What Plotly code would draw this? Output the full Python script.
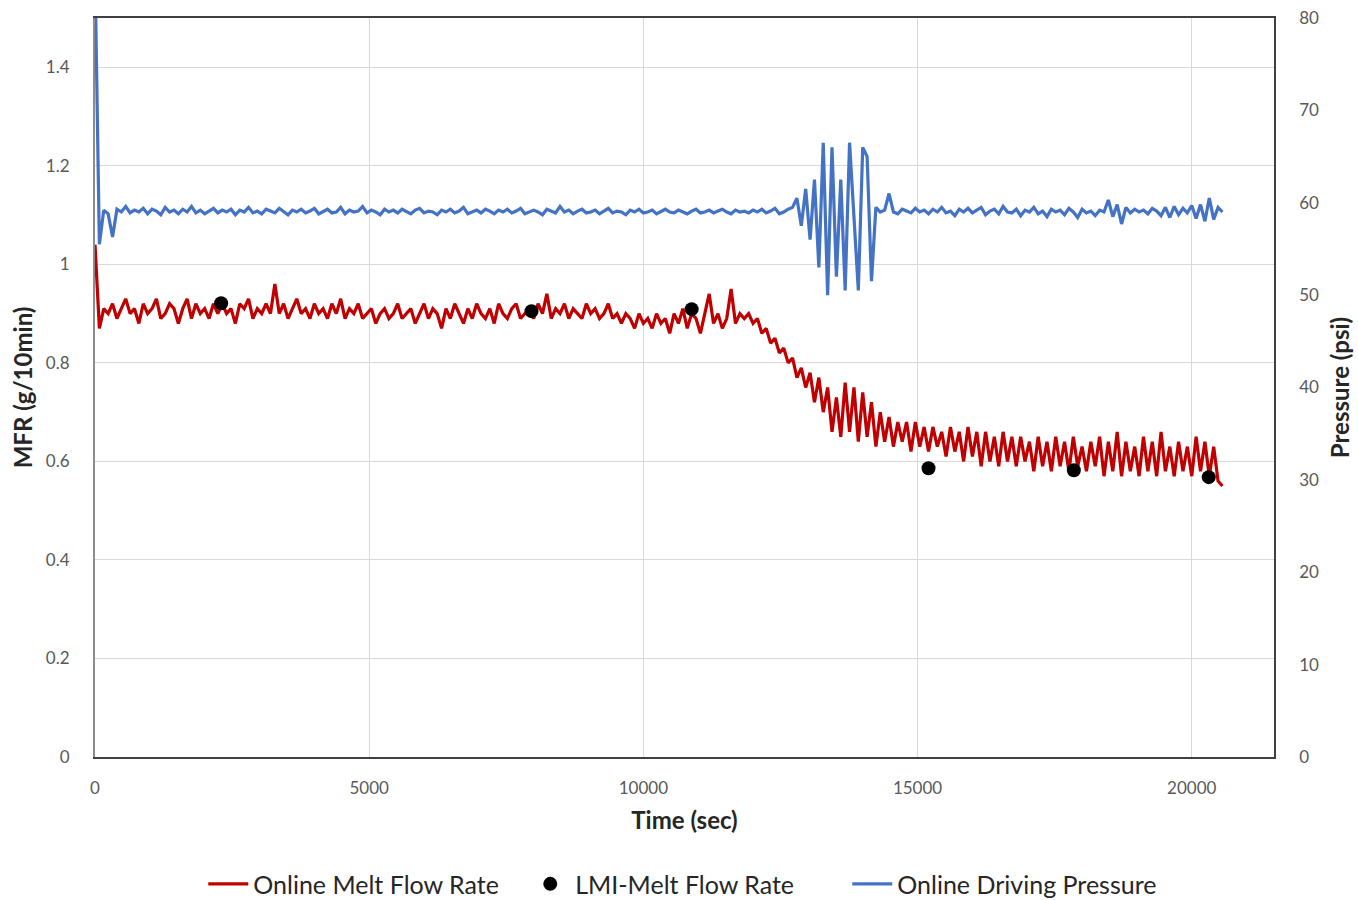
import numpy as np
import plotly.graph_objects as go

# ---------------- data ----------------
time_sec = np.arange(0, 20600, 80)  # sample times of the online instrument

mfr_online = [
    1.04, 0.87, 0.91, 0.90, 0.92, 0.89, 0.91, 0.93, 0.90, 0.91,
    0.88, 0.92, 0.90, 0.91, 0.93, 0.89, 0.90, 0.92, 0.91, 0.88,
    0.91, 0.93, 0.89, 0.92, 0.90, 0.91, 0.89, 0.92, 0.90, 0.92,
    0.90, 0.91, 0.88, 0.92, 0.91, 0.93, 0.89, 0.91, 0.90, 0.92,
    0.90, 0.96, 0.90, 0.92, 0.89, 0.91, 0.93, 0.90, 0.91, 0.89,
    0.92, 0.90, 0.91, 0.89, 0.92, 0.90, 0.93, 0.89, 0.91, 0.90,
    0.92, 0.89, 0.90, 0.91, 0.88, 0.90, 0.91, 0.89, 0.90, 0.92,
    0.89, 0.90, 0.91, 0.88, 0.90, 0.92, 0.89, 0.91, 0.90, 0.87,
    0.91, 0.89, 0.92, 0.90, 0.88, 0.91, 0.89, 0.92, 0.90, 0.89,
    0.91, 0.88, 0.92, 0.90, 0.89, 0.91, 0.92, 0.89, 0.90, 0.91,
    0.89, 0.92, 0.90, 0.94, 0.89, 0.91, 0.90, 0.92, 0.89, 0.91,
    0.90, 0.89, 0.92, 0.90, 0.91, 0.89, 0.90, 0.92, 0.89, 0.90,
    0.88, 0.90, 0.89, 0.87, 0.90, 0.88, 0.89, 0.87, 0.90, 0.88,
    0.89, 0.86, 0.90, 0.88, 0.91, 0.87, 0.90, 0.89, 0.86, 0.90,
    0.94, 0.88, 0.90, 0.87, 0.89, 0.95, 0.88, 0.90, 0.89, 0.90,
    0.88, 0.89, 0.86, 0.87, 0.84, 0.85, 0.82, 0.83, 0.80, 0.81,
    0.77, 0.79, 0.75, 0.78, 0.72, 0.77, 0.70, 0.75, 0.66, 0.73,
    0.65, 0.76, 0.66, 0.75, 0.64, 0.74, 0.65, 0.72, 0.63, 0.70,
    0.64, 0.69, 0.63, 0.68, 0.64, 0.68, 0.62, 0.68, 0.63, 0.67,
    0.62, 0.67, 0.63, 0.66, 0.61, 0.67, 0.62, 0.66, 0.60, 0.67,
    0.61, 0.66, 0.59, 0.66, 0.60, 0.65, 0.59, 0.66, 0.60, 0.65,
    0.59, 0.65, 0.60, 0.64, 0.58, 0.65, 0.59, 0.64, 0.58, 0.65,
    0.59, 0.64, 0.58, 0.65, 0.59, 0.63, 0.58, 0.64, 0.59, 0.65,
    0.57, 0.64, 0.58, 0.66, 0.57, 0.64, 0.58, 0.63, 0.57, 0.65,
    0.58, 0.64, 0.57, 0.66, 0.58, 0.63, 0.57, 0.64, 0.58, 0.63,
    0.57, 0.65, 0.58, 0.64, 0.57, 0.63, 0.56, 0.55,
]

pressure_online = [
    85.0, 55.5, 59.2, 58.8, 56.3, 59.3, 59.0, 59.6, 58.9, 59.2,
    59.0, 59.4, 58.8, 59.3, 59.1, 58.7, 59.5, 59.0, 59.2, 58.8,
    59.3, 59.0, 59.6, 58.9, 59.2, 58.8, 59.1, 59.4, 58.9, 59.2,
    59.0, 59.3, 58.7, 59.2, 59.0, 59.5, 58.9, 59.1, 58.8, 59.3,
    59.1, 58.9, 59.4, 59.0, 58.7, 59.2, 59.0, 59.3, 58.9, 59.1,
    59.4, 58.8, 59.1, 59.3, 58.9, 59.0, 59.5, 58.8, 59.2, 59.0,
    59.1, 59.6, 58.9, 59.2, 59.0, 58.7, 59.3, 59.0, 59.2, 58.9,
    59.3, 59.0, 58.8, 59.2, 59.4, 58.9, 59.1, 59.0, 58.7, 59.2,
    59.0, 59.3, 58.9, 59.1, 59.5, 58.8, 59.0, 59.2, 58.9, 59.3,
    59.1, 58.8, 59.2, 59.0, 59.3, 58.9, 59.1, 59.4, 58.8, 59.0,
    59.2, 59.0, 58.7, 59.3, 59.1, 58.9, 59.6, 59.0, 59.2, 58.8,
    59.1, 59.3, 58.9, 59.0, 59.2, 58.8, 59.1, 59.4, 58.9, 59.1,
    59.0, 58.7, 59.2, 59.0, 59.3, 58.9, 59.0, 59.2, 58.8, 59.1,
    59.3, 59.0, 58.9, 59.2, 59.0, 58.8, 59.1, 59.3, 58.9, 59.0,
    59.2, 58.9, 59.1, 59.3, 59.0, 58.8, 59.2, 59.0, 59.1, 58.9,
    59.2, 59.0, 59.3, 58.9, 59.1, 59.4, 58.8, 59.0, 59.3, 59.5,
    60.5, 57.5, 61.5, 56.0, 62.5, 53.0, 66.5, 50.0, 66.0, 52.0,
    62.5, 50.5, 66.5, 58.0, 50.5, 66.0, 65.0, 51.5, 59.5, 59.0,
    59.2, 61.0, 59.0, 58.8, 59.3, 59.1, 58.9, 59.4, 59.0, 59.2,
    58.8, 59.3, 59.0, 59.5, 58.9, 59.1, 58.6, 59.3, 59.0, 59.4,
    58.9, 59.2, 59.5, 58.7, 59.1, 59.3, 58.8, 59.6, 59.0, 58.9,
    59.3, 58.6, 59.2, 59.0, 59.5, 58.8, 59.1, 58.5, 59.3, 59.0,
    59.2, 58.7, 59.4, 59.0, 58.4, 59.3, 58.9, 59.1, 58.6, 59.2,
    59.0, 60.3, 58.5, 59.8, 57.7, 59.5, 58.9, 59.3, 59.0, 59.2,
    58.8, 59.4, 59.1, 58.6, 59.5, 58.4, 59.6, 58.7, 59.4, 58.9,
    59.7, 58.3, 59.8, 58.0, 60.5, 58.2, 59.5, 59.0,
]

lmi_time = [2300, 7960, 10880, 15200, 17850, 20310]
lmi_mfr = [0.921, 0.905, 0.909, 0.586, 0.582, 0.568]

x_ticks = [0, 5000, 10000, 15000, 20000]
x_tick_labels = ["0", "5000", "10000", "15000", "20000"]

# ---------------- figure ----------------
FONT = "Lato, sans-serif"
TICK_COLOR = "#595959"
TITLE_COLOR = "#262626"
GRID = "#D9D9D9"

fig = go.Figure()
fig.add_trace(go.Scatter(
    x=time_sec, y=mfr_online, mode="lines", name="Online Melt Flow Rate",
    line=dict(color="#C00000", width=3.2), yaxis="y"))
fig.add_trace(go.Scatter(
    x=lmi_time, y=lmi_mfr, mode="markers", name="LMI-Melt Flow Rate",
    marker=dict(color="black", size=14), yaxis="y"))
fig.add_trace(go.Scatter(
    x=time_sec, y=pressure_online, mode="lines", name="Online Driving Pressure",
    line=dict(color="#4472C4", width=3.2), yaxis="y2"))

fig.update_layout(
    width=1358, height=900,
    margin=dict(l=95, r=84, t=18, b=143, autoexpand=False),
    paper_bgcolor="white", plot_bgcolor="white",
    font=dict(family=FONT, size=17, color=TICK_COLOR),
    showlegend=True,
    legend=dict(orientation="h", x=0.5015, xanchor="center", y=-0.172, yanchor="middle",
                font=dict(family=FONT, size=25, color=TITLE_COLOR),
                itemwidth=40, entrywidth=267, tracegroupgap=0),
    xaxis=dict(range=[0, 21500], tickvals=x_ticks, ticktext=x_tick_labels,
               showgrid=True, gridcolor=GRID, gridwidth=1,
               showline=True, linecolor="#404040", linewidth=1.5, mirror=True, zeroline=False,
               ticks="", ticklabelstandoff=15, automargin=False,
               title=dict(text="<b>Time (sec)</b>", font=dict(family=FONT, size=24, color=TITLE_COLOR),
                          standoff=15)),
    yaxis=dict(range=[0, 1.5], dtick=0.2, tick0=0, showgrid=True, gridcolor=GRID, gridwidth=1,
               showline=True, linecolor="#8C8C8C", linewidth=2, zeroline=False, ticks="",
               ticklabelstandoff=20, automargin=False,
               title=dict(text="<b>MFR (g/10min)</b>", font=dict(family=FONT, size=24, color=TITLE_COLOR),
                          standoff=6)),
    yaxis2=dict(range=[0, 80], dtick=10, tick0=0, overlaying="y", side="right", showgrid=False,
                showline=True, linecolor="#404040", linewidth=1.5, zeroline=False, ticks="",
                ticklabelstandoff=20, automargin=False,
                title=dict(text="<b>Pressure (psi)</b>", font=dict(family=FONT, size=24, color=TITLE_COLOR),
                           standoff=14)),
)

fig.write_html("out.html")
